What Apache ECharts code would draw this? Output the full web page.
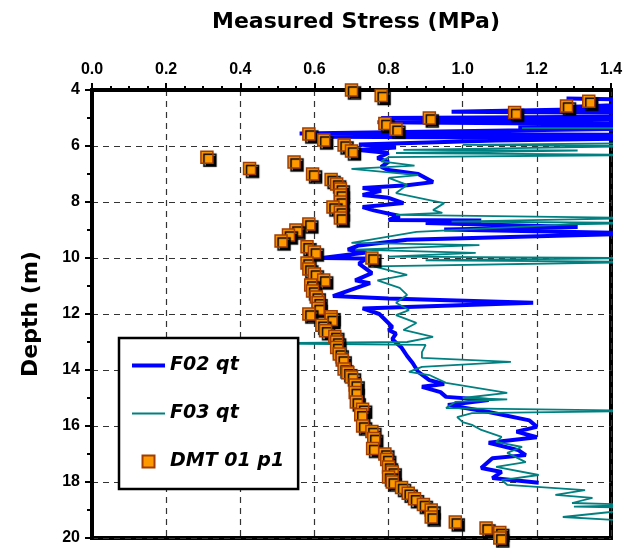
<!DOCTYPE html>
<html>
<head>
<meta charset="utf-8">
<script src="https://cdn.jsdelivr.net/npm/echarts@6/dist/echarts.min.js"></script>
<style>
html, body { margin: 0; padding: 0; background: #fff; }
#chart { width: 635px; height: 548px; }
</style>
</head>
<body>
<div id="chart"></div>
<script>
// stress (MPa), depth (m)
const stressTicks = ['0.0', '0.2', '0.4', '0.6', '0.8', '1.0', '1.2', '1.4'];
const depthTicks = [4, 6, 8, 10, 12, 14, 16, 18, 20];
const seriesNames = ['F02 qt', 'F03 qt', 'DMT 01 p1'];

// F02 cone tip resistance trace
const f02 = [
	[1.28, 4.3], [1.50, 4.35], [1.40, 4.45], [1.50, 4.5], [1.30, 4.6], [1.50, 4.65], [0.97, 4.78], [1.50, 4.82],
	[1.50, 4.95], [0.78, 5.0], [1.50, 5.05], [0.77, 5.15], [1.50, 5.22], [1.15, 5.3], [1.50, 5.38], [0.56, 5.55],
	[1.50, 5.6], [0.62, 5.67], [1.50, 5.72], [1.09, 5.8], [0.72, 5.95], [0.82, 6.05], [0.72, 6.14], [0.80, 6.25],
	[0.77, 6.43], [0.80, 6.57], [0.78, 6.75], [0.80, 6.86], [0.88, 7.0], [0.92, 7.29], [0.85, 7.4], [0.73, 7.5],
	[0.78, 7.6], [0.73, 7.75], [0.80, 7.85], [0.84, 8.04], [0.73, 8.18], [0.76, 8.3], [0.83, 8.5], [0.80, 8.64],
	[1.05, 8.66], [0.90, 8.75], [1.31, 8.89], [0.95, 8.98], [1.50, 9.12], [1.50, 9.18], [0.85, 9.35], [0.72, 9.55],
	[0.69, 9.7], [0.74, 9.8], [0.62, 10.0], [0.74, 10.02], [0.72, 10.2], [0.755, 10.54], [0.71, 10.8], [0.75, 10.9],
	[0.65, 11.36], [0.80, 11.45], [1.19, 11.6], [0.73, 11.8], [0.775, 12.0], [0.81, 12.46], [0.80, 12.57], [0.82, 12.7],
	[0.81, 12.9], [0.835, 13.2], [0.85, 13.5], [0.865, 13.75], [0.88, 14.07], [0.91, 14.36], [0.95, 14.5], [0.89, 14.6],
	[0.94, 14.79], [0.955, 14.96], [1.07, 15.07], [0.96, 15.25], [1.07, 15.5], [1.18, 15.8], [1.20, 16.03], [1.145, 16.2],
	[1.20, 16.4], [1.07, 16.6], [1.15, 16.86], [1.17, 17.04], [1.08, 17.15], [1.05, 17.5], [1.105, 17.64], [1.08, 17.86],
	[1.205, 18.03]
];

// F03 cone tip resistance trace
const f03 = [
	[1.16, 5.36], [1.50, 5.36], [1.50, 5.9], [1.00, 5.96], [1.50, 6.0], [0.84, 6.14], [1.31, 6.16], [0.82, 6.25],
	[1.50, 6.32], [0.80, 6.4], [0.78, 6.55], [0.87, 6.7], [0.70, 6.82], [0.88, 7.04], [0.80, 7.14], [0.85, 7.39],
	[0.82, 7.68], [0.91, 7.93], [0.95, 8.04], [0.92, 8.29], [0.945, 8.39], [0.82, 8.46], [1.50, 8.57], [0.97, 8.7],
	[1.50, 8.75], [1.29, 8.8], [0.875, 9.07], [0.70, 9.46], [1.045, 9.54], [0.71, 9.7], [1.035, 9.82], [0.80, 9.95],
	[1.50, 10.0], [0.90, 10.08], [1.50, 10.14], [0.76, 10.3], [0.85, 10.6], [0.77, 10.8], [0.83, 11.07], [0.85, 11.32],
	[0.82, 11.6], [0.855, 11.86], [0.82, 12.04], [0.875, 12.32], [0.84, 12.57], [0.92, 12.82], [0.85, 13.0], [0.40, 13.05],
	[0.90, 13.1], [0.89, 13.36], [0.89, 13.57], [1.13, 13.71], [0.89, 13.89], [0.855, 14.07], [0.91, 14.18], [0.955, 14.46],
	[1.12, 14.82], [1.00, 15.0], [1.12, 15.05], [0.98, 15.14], [0.955, 15.36], [1.50, 15.46], [1.025, 15.54], [0.985, 15.68],
	[1.00, 15.86], [1.025, 15.96], [1.05, 16.14], [1.105, 16.39], [1.09, 16.57], [1.16, 16.75], [1.12, 16.96], [1.17, 17.29],
	[1.09, 17.46], [1.205, 17.75], [1.105, 17.93], [1.12, 18.1], [1.33, 18.29], [1.25, 18.46], [1.35, 18.57], [1.295, 18.75],
	[1.50, 18.82], [1.30, 18.88], [1.50, 18.93], [1.27, 19.25], [1.50, 19.43]
];

// DMT p1 readings
const dmt = [
	[0.70, 4.0], [0.78, 4.2], [1.34, 4.4], [1.28, 4.57], [1.14, 4.8], [0.91, 5.0], [0.79, 5.2], [0.82, 5.4],
	[0.585, 5.57], [0.625, 5.79], [0.68, 5.96], [0.70, 6.18], [0.31, 6.4], [0.545, 6.57], [0.425, 6.8], [0.595, 7.0],
	[0.645, 7.2], [0.66, 7.36], [0.67, 7.54], [0.67, 7.75], [0.67, 8.0], [0.65, 8.18], [0.67, 8.36], [0.67, 8.57],
	[0.585, 8.79], [0.55, 9.0], [0.53, 9.18], [0.51, 9.39], [0.58, 9.6], [0.60, 9.79], [0.755, 10.0], [0.58, 10.18],
	[0.585, 10.39], [0.60, 10.57], [0.625, 10.79], [0.59, 10.96], [0.595, 11.18], [0.605, 11.39], [0.61, 11.6], [0.61, 11.8],
	[0.585, 12.0], [0.645, 12.1], [0.645, 12.2], [0.62, 12.4], [0.63, 12.6], [0.655, 12.8], [0.66, 13.0], [0.66, 13.2],
	[0.667, 13.43], [0.675, 13.64], [0.68, 13.96], [0.69, 14.1], [0.70, 14.25], [0.71, 14.54], [0.71, 14.8], [0.713, 15.14],
	[0.73, 15.4], [0.725, 15.6], [0.73, 16.0], [0.755, 16.2], [0.76, 16.45], [0.757, 16.8], [0.79, 17.0], [0.795, 17.2],
	[0.80, 17.46], [0.81, 17.64], [0.80, 17.82], [0.81, 18.0], [0.835, 18.2], [0.853, 18.4], [0.87, 18.6], [0.894, 18.8],
	[0.915, 19.0], [0.915, 19.25], [0.98, 19.43], [1.063, 19.64], [1.10, 19.8], [1.10, 20.0]
];

const font = 'DejaVu Sans';
const tickFont = 'Liberation Sans';

var myChart = echarts.init(document.getElementById('chart'));
var option = {
	animation: false,
	title: {
		text: 'Measured Stress (MPa)',
		left: 351,
		top: 6,
		textAlign: 'center',
		textStyle: { fontFamily: font, fontWeight: 'bold', fontSize: 22, color: '#000' }
	},
	grid: {
		left: 92,
		top: 90,
		right: 24,
		bottom: 10,
		show: true,
		borderColor: '#000',
		borderWidth: 4,
		backgroundColor: '#fff'
	},
	legend: {
		orient: 'vertical',
		left: 119,
		top: 338,
		data: [
			{ name: seriesNames[0], itemStyle: { opacity: 0 }, lineStyle: { width: 4 } },
			{ name: seriesNames[1], itemStyle: { opacity: 0 }, lineStyle: { width: 2 } },
			{ name: seriesNames[2], icon: 'path://M0,0h10v10h-10z' }
		],
		backgroundColor: '#fff',
		borderColor: '#000',
		borderWidth: 2.5,
		borderRadius: 0,
		padding: [18, 14, 18, 11],
		itemGap: 29,
		itemWidth: 33,
		itemHeight: 12,
		symbolKeepAspect: true,
		textStyle: { fontFamily: font, fontWeight: 'bold', fontStyle: 'italic', fontSize: 19, color: '#000' }
	},
	xAxis: {
		type: 'value',
		position: 'top',
		min: 0,
		max: 1.4,
		interval: 0.2,
		axisLine: { lineStyle: { color: '#000', width: 4 } },
		axisTick: { length: 7, lineStyle: { color: '#000', width: 2 } },
		minorTick: { show: true, splitNumber: 4, length: 4, lineStyle: { color: '#000', width: 2 } },
		axisLabel: {
			margin: 12,
			formatter: (v) => stressTicks[Math.round(v / 0.2)],
			fontFamily: tickFont, fontWeight: 'bold', fontSize: 16, color: '#000'
		},
		splitLine: { lineStyle: { color: '#333', width: 1.2, type: [6, 5] } }
	},
	yAxis: {
		type: 'value',
		inverse: true,
		min: 4,
		max: 20,
		interval: 2,
		name: 'Depth (m)',
		nameLocation: 'middle',
		nameRotate: 90,
		nameGap: 50,
		nameTextStyle: { fontFamily: font, fontWeight: 'bold', fontSize: 22, color: '#000' },
		axisLine: { lineStyle: { color: '#000', width: 4 } },
		axisTick: { length: 7, lineStyle: { color: '#000', width: 2 } },
		minorTick: { show: true, splitNumber: 2, length: 5, lineStyle: { color: '#000', width: 2 } },
		axisLabel: {
			margin: 12,
			formatter: (v) => depthTicks.indexOf(v) >= 0 ? String(v) : '',
			fontFamily: tickFont, fontWeight: 'bold', fontSize: 16, color: '#000'
		},
		splitLine: { lineStyle: { color: '#333', width: 1.2, type: [6, 5] } }
	},
	series: [{
		name: seriesNames[0],
		type: 'line',
		data: f02,
		symbol: 'none',
		showSymbol: false,
		clip: true,
		lineStyle: { color: '#0000FF', width: 4 },
		itemStyle: { color: '#0000FF' }
	}, {
		name: seriesNames[1],
		type: 'line',
		data: f03,
		symbol: 'none',
		showSymbol: false,
		clip: true,
		lineStyle: { color: '#008080', width: 1.8 },
		itemStyle: { color: '#008080' }
	}, {
		name: seriesNames[2],
		type: 'scatter',
		data: dmt,
		symbol: 'rect',
		symbolSize: 12,
		symbolKeepAspect: true,
		clip: false,
		z: 5,
		itemStyle: {
			color: '#FF9900',
			borderColor: '#A33C00',
			borderWidth: 1.5,
			opacity: 1,
			shadowColor: '#000',
			shadowBlur: 1,
			shadowOffsetX: 3,
			shadowOffsetY: 3
		}
	}]
};
myChart.setOption(option);
</script>
</body>
</html>
